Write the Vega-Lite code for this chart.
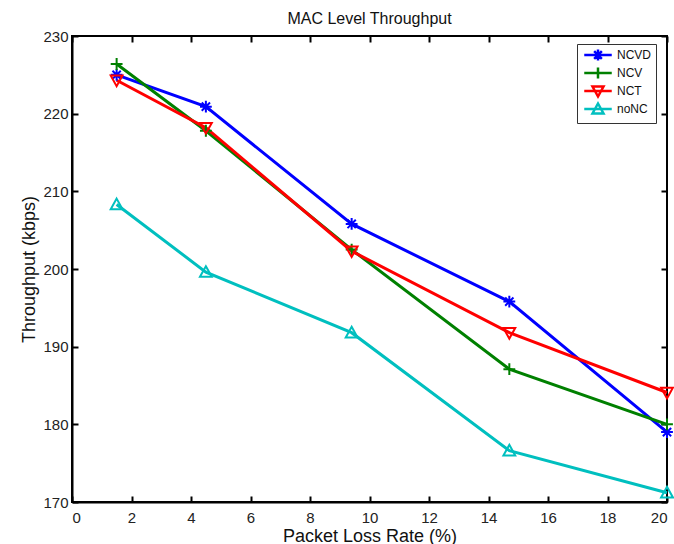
{
  "$schema": "https://vega.github.io/schema/vega-lite/v6.json",
  "width": 595,
  "height": 466,
  "autosize": "none",
  "padding": {"left": 72, "top": 36, "right": 7, "bottom": 42},
  "background": "white",
  "title": {"text": "MAC Level Throughput", "fontSize": 16, "fontWeight": "normal", "font": "Liberation Sans", "color": "#111", "offset": 2},
  "config": {
    "view": {"stroke": "black", "strokeWidth": 2},
    "axis": {"domainColor": "black", "domainWidth": 2, "tickColor": "black", "tickWidth": 2, "tickSize": -6, "grid": false,
      "labelFont": "Liberation Sans", "labelFontSize": 15, "labelColor": "#222", "titleFont": "Liberation Sans", "titleFontSize": 18, "titleFontWeight": "normal", "titleColor": "#111"}
  },
  "data": {"values": [
    {"x": 1.5, "y": 225.0, "s": "NCVD"}, {"x": 4.5, "y": 220.9, "s": "NCVD"}, {"x": 9.4, "y": 205.8, "s": "NCVD"}, {"x": 14.7, "y": 195.8, "s": "NCVD"}, {"x": 20, "y": 179.0, "s": "NCVD"},
    {"x": 1.5, "y": 226.4, "s": "NCV"}, {"x": 4.5, "y": 217.8, "s": "NCV"}, {"x": 9.4, "y": 202.5, "s": "NCV"}, {"x": 14.7, "y": 187.1, "s": "NCV"}, {"x": 20, "y": 180.0, "s": "NCV"},
    {"x": 1.5, "y": 224.3, "s": "NCT"}, {"x": 4.5, "y": 218.2, "s": "NCT"}, {"x": 9.4, "y": 202.3, "s": "NCT"}, {"x": 14.7, "y": 191.8, "s": "NCT"}, {"x": 20, "y": 184.1, "s": "NCT"},
    {"x": 1.5, "y": 208.3, "s": "noNC"}, {"x": 4.5, "y": 199.6, "s": "noNC"}, {"x": 9.4, "y": 191.8, "s": "noNC"}, {"x": 14.7, "y": 176.6, "s": "noNC"}, {"x": 20, "y": 171.2, "s": "noNC"}
  ]},
  "layer": [
    {
      "mark": {"type": "line", "strokeWidth": 3},
      "encoding": {
        "x": {"field": "x", "type": "quantitative", "scale": {"domain": [0, 20], "nice": false}, "axis": {"title": "Packet Loss Rate (%)", "values": [0,2,4,6,8,10,12,14,16,18,20], "labelPadding": 14, "titlePadding": 2}},
        "y": {"field": "y", "type": "quantitative", "scale": {"domain": [170, 230], "nice": false, "zero": false}, "axis": {"title": "Throughput (kbps)", "values": [170,180,190,200,210,220,230], "labelPadding": 10, "titlePadding": 4}},
        "color": {"field": "s", "type": "nominal", "scale": {"domain": ["NCVD", "NCV", "NCT", "noNC"], "range": ["#0000FF", "#008000", "#FF0000", "#00BFBF"]},
          "legend": {"title": null, "orient": "none", "legendX": 505, "legendY": 8, "strokeColor": "#333", "fillColor": "white", "padding": 4, "labelFont": "Liberation Sans", "labelFontSize": 12, "labelColor": "#111", "rowPadding": -8, "symbolSize": 121, "symbolStrokeWidth": 2.5, "symbolOffset": 10, "labelOffset": 12, "symbolFillColor": "transparent",
            "symbolType": {"expr": "datum.value == 'NCVD' ? 'M-2.5,0L2.5,0M-1,0L1,0M0,-1L0,1M-0.7,-0.7L0.7,0.7M-0.7,0.7L0.7,-0.7' : datum.value == 'NCV' ? 'M-2.5,0L2.5,0M0,-1L0,1' : datum.value == 'NCT' ? 'M-2.5,0L2.5,0M-1,-0.8L1,-0.8L0,1Z' : 'M-2.5,0L2.5,0M0,-1L1,0.8L-1,0.8Z'"}
          }},
        "detail": {"field": "s"}
      }
    },
    {
      "transform": [{"filter": "datum.s == 'NCVD'"}],
      "mark": {"type": "point", "filled": false, "strokeWidth": 2, "size": 140, "opacity": 1, "color": "#0000FF", "shape": "M-1,0L1,0M0,-1L0,1M-0.7,-0.7L0.7,0.7M-0.7,0.7L0.7,-0.7"},
      "encoding": {
        "x": {"field": "x", "type": "quantitative", "axis": {"orient": "top", "labels": false, "title": null, "domain": false, "values": [0,2,4,6,8,10,12,14,16,18,20]}},
        "y": {"field": "y", "type": "quantitative", "axis": {"orient": "right", "labels": false, "title": null, "domain": false, "values": [170,180,190,200,210,220,230]}}
      }
    },
    {
      "transform": [{"filter": "datum.s == 'NCV'"}],
      "mark": {"type": "point", "filled": false, "strokeWidth": 2, "size": 140, "opacity": 1, "color": "#008000", "shape": "M-1,0L1,0M0,-1L0,1"},
      "encoding": {
        "x": {"field": "x", "type": "quantitative", "axis": null},
        "y": {"field": "y", "type": "quantitative", "axis": null}
      }
    },
    {
      "transform": [{"filter": "datum.s == 'NCT'"}],
      "mark": {"type": "point", "filled": false, "strokeWidth": 2, "size": 140, "opacity": 1, "color": "#FF0000", "shape": "M-1,-0.8L1,-0.8L0,1Z"},
      "encoding": {
        "x": {"field": "x", "type": "quantitative", "axis": null},
        "y": {"field": "y", "type": "quantitative", "axis": null}
      }
    },
    {
      "transform": [{"filter": "datum.s == 'noNC'"}],
      "mark": {"type": "point", "filled": false, "strokeWidth": 2, "size": 140, "opacity": 1, "color": "#00BFBF", "shape": "M0,-1L1,0.8L-1,0.8Z"},
      "encoding": {
        "x": {"field": "x", "type": "quantitative", "axis": null},
        "y": {"field": "y", "type": "quantitative", "axis": null}
      }
    }
  ],
  "resolve": {"axis": {"x": "independent", "y": "independent"}}
}
